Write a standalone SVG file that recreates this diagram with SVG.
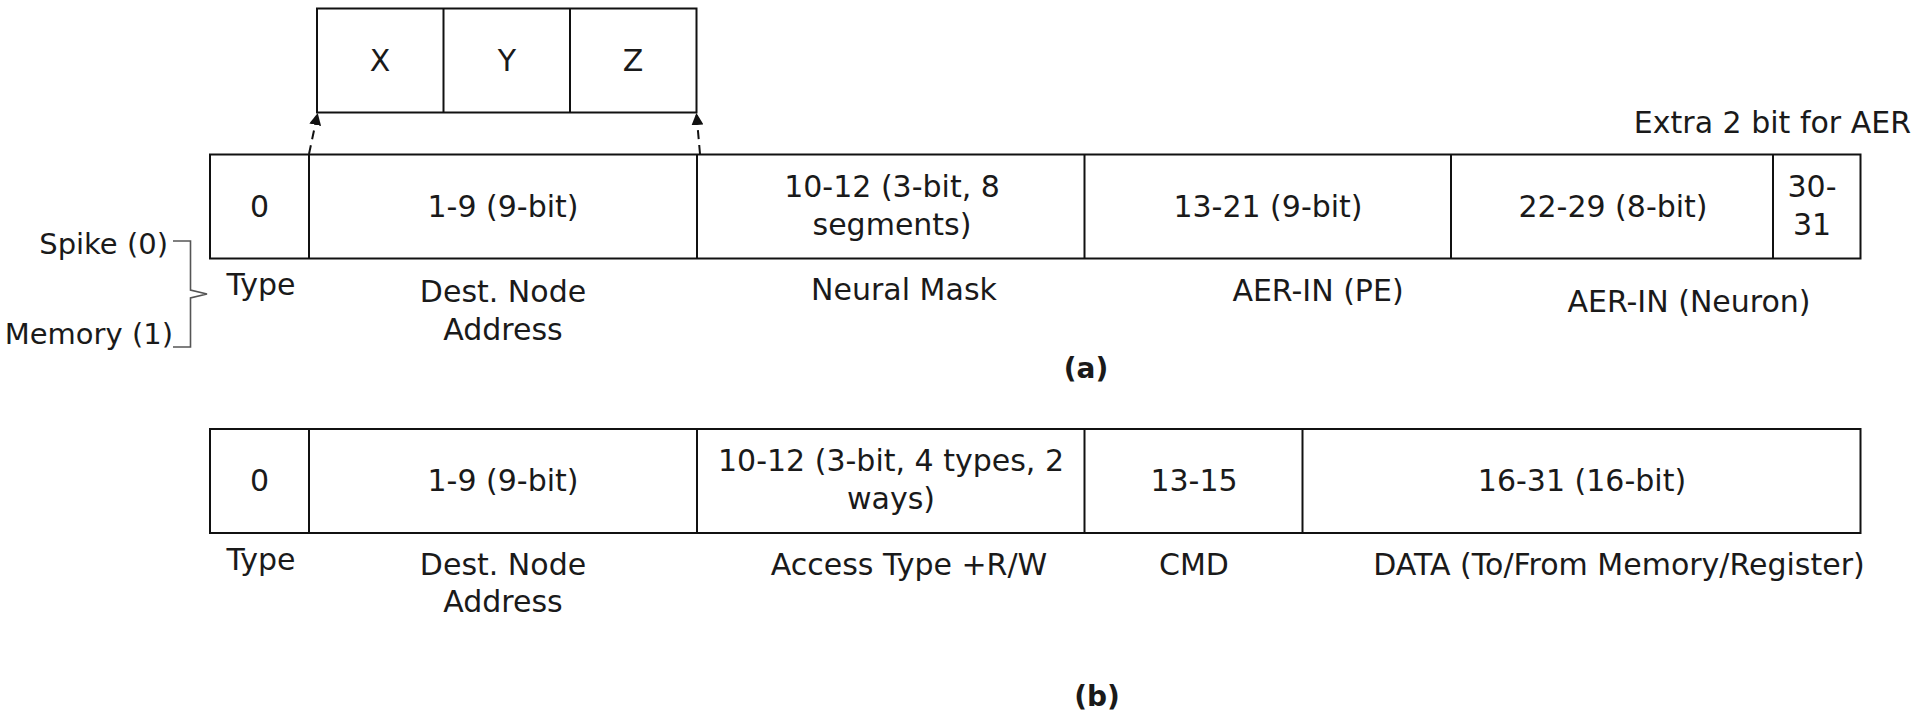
<svg xmlns="http://www.w3.org/2000/svg" width="1917" height="713" viewBox="0 0 1917 713">
<style>
text{font-family:"DejaVu Sans","Liberation Sans",sans-serif;font-size:30px;fill:#1a1a1a;text-anchor:middle}
.cell{fill:#fff;stroke:#111;stroke-width:2}
.div{stroke:#111;stroke-width:2}
.end{text-anchor:end}
.side{font-size:29px}
.cap{font-weight:bold;font-size:28px}
.dash{stroke:#111;stroke-width:2;stroke-dasharray:9 6;fill:none}
.brace{stroke:#555;stroke-width:1.6;fill:none}
</style>
<defs>
<marker id="ah" viewBox="0 0 12 12" refX="11" refY="6" markerWidth="12" markerHeight="12" markerUnits="userSpaceOnUse" orient="auto">
<path d="M0,0 L12,6 L0,12 Z" fill="#111"/>
</marker>
</defs>

<g id="xyz">
<rect class="cell" x="317" y="8.5" width="379.5" height="104"/>
<line class="div" x1="443.5" y1="8.5" x2="443.5" y2="112.5"/>
<line class="div" x1="570" y1="8.5" x2="570" y2="112.5"/>
<text x="380" y="71">X</text>
<text x="507" y="71">Y</text>
<text x="633" y="71">Z</text>
</g>

<g id="connectors">
<line class="dash" x1="309" y1="154" x2="317.5" y2="114" marker-end="url(#ah)"/>
<line class="dash" x1="700" y1="154" x2="696.5" y2="114" marker-end="url(#ah)"/>
<path class="brace" d="M173,241 L190.5,241 L190.5,290 L207,294 L190.5,298 L190.5,347 L173,347"/>
</g>

<g id="packet-a">
<rect class="cell" x="210" y="154.5" width="1650.5" height="104"/>
<line class="div" x1="309" y1="154.5" x2="309" y2="258.5"/>
<line class="div" x1="697" y1="154.5" x2="697" y2="258.5"/>
<line class="div" x1="1084.5" y1="154.5" x2="1084.5" y2="258.5"/>
<line class="div" x1="1451" y1="154.5" x2="1451" y2="258.5"/>
<line class="div" x1="1773" y1="154.5" x2="1773" y2="258.5"/>
<text x="259.5" y="217">0</text>
<text x="503" y="217">1-9 (9-bit)</text>
<text x="892" y="197">10-12 (3-bit, 8</text>
<text x="892" y="235">segments)</text>
<text x="1268" y="217">13-21 (9-bit)</text>
<text x="1613" y="217">22-29 (8-bit)</text>
<text x="1812" y="197">30-</text>
<text x="1812" y="235">31</text>
</g>

<g id="labels-a">
<text class="end" x="1911" y="133">Extra 2 bit for AER</text>
<text class="end side" x="168" y="254">Spike (0)</text>
<text class="end side" x="173" y="344">Memory (1)</text>
<text x="261" y="295">Type</text>
<text x="503" y="302">Dest. Node</text>
<text x="503" y="340">Address</text>
<text x="904" y="300">Neural Mask</text>
<text x="1318" y="301">AER-IN (PE)</text>
<text x="1689" y="312">AER-IN (Neuron)</text>
<text class="cap" x="1086" y="378">(a)</text>
</g>

<g id="packet-b">
<rect class="cell" x="210" y="429" width="1650.5" height="104"/>
<line class="div" x1="309" y1="429" x2="309" y2="533"/>
<line class="div" x1="697" y1="429" x2="697" y2="533"/>
<line class="div" x1="1084.5" y1="429" x2="1084.5" y2="533"/>
<line class="div" x1="1302.5" y1="429" x2="1302.5" y2="533"/>
<text x="259.5" y="491">0</text>
<text x="503" y="491">1-9 (9-bit)</text>
<text x="891" y="471">10-12 (3-bit, 4 types, 2</text>
<text x="891" y="509">ways)</text>
<text x="1194" y="491">13-15</text>
<text x="1582" y="491">16-31 (16-bit)</text>
</g>

<g id="labels-b">
<text x="261" y="570">Type</text>
<text x="503" y="575">Dest. Node</text>
<text x="503" y="612">Address</text>
<text x="909" y="575">Access Type +R/W</text>
<text x="1194" y="575">CMD</text>
<text x="1619" y="575">DATA (To/From Memory/Register)</text>
<text class="cap" x="1097" y="706">(b)</text>
</g>
</svg>
